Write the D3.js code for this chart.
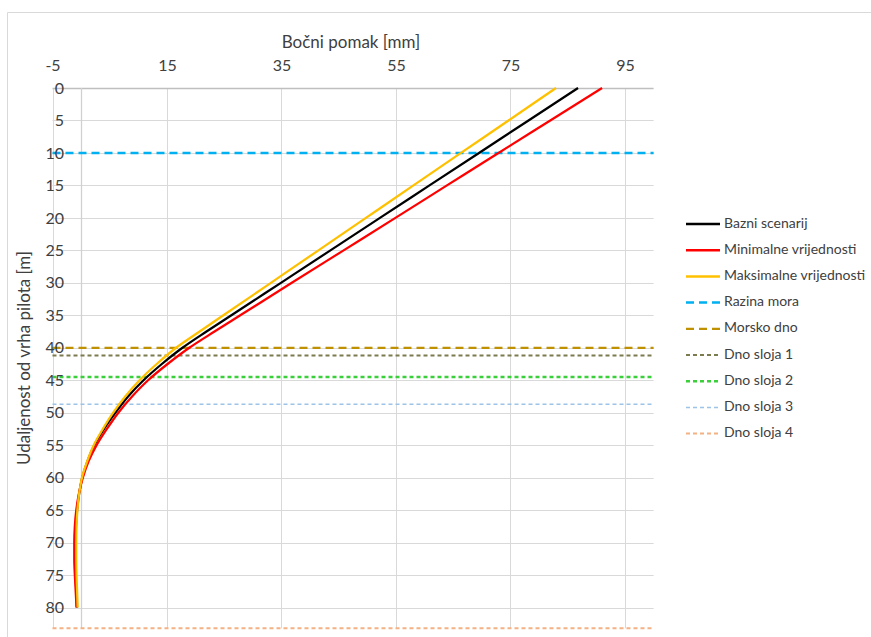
<!DOCTYPE html>
<html>
<head>
<meta charset="utf-8">
<script src="https://cdn.jsdelivr.net/npm/d3@7"></script>
<style>
  html, body { margin: 0; padding: 0; background: #fff; }
  svg { display: block; font-family: Lato, "Open Sans", sans-serif; }
</style>
</head>
<body>
<svg id="chart" width="871" height="637"></svg>
<script>
// Depth below pile head [m]
const depths = [0, 5, 10, 15, 20, 25, 30, 35, 37.5, 40, 42.5, 45, 47.5, 50, 52.5, 55, 57.5, 60, 62.5, 65, 67.5, 70, 72.5, 75, 77.5, 80];

// Lateral displacement [mm] for each scenario
const baseCase = [86.8, 78.15, 69.5, 60.85, 52.2, 43.55, 34.9, 26.25, 21.9, 17.7, 14.1, 10.9, 8.2, 6.0, 4.0, 2.3, 1.1, 0.2, -0.35, -0.7, -0.9, -1.0, -1.0, -0.95, -0.85, -0.75];
const minValues = [91.0, 81.95, 72.9, 63.9, 54.9, 45.85, 36.8, 27.8, 23.3, 18.9, 15.1, 11.7, 8.9, 6.5, 4.5, 2.7, 1.3, 0.3, -0.4, -0.85, -1.1, -1.2, -1.2, -1.1, -0.95, -0.8];
const maxValues = [82.95, 74.65, 66.35, 58.05, 49.75, 41.45, 33.15, 24.85, 20.7, 16.6, 13.2, 10.2, 7.7, 5.6, 3.8, 2.2, 1.05, 0.15, -0.35, -0.65, -0.8, -0.85, -0.85, -0.8, -0.7, -0.6];

const seriesNames = ["Bazni scenarij", "Minimalne vrijednosti", "Maksimalne vrijednosti"];
const seriesColors = ["#000000", "#ff0000", "#ffc000"];

// Horizontal reference levels [m]
const levelNames = ["Razina mora", "Morsko dno", "Dno sloja 1", "Dno sloja 2", "Dno sloja 3", "Dno sloja 4"];
const levelDepths = [10, 40, 41.2, 44.5, 48.7, 83.2];
const levelColors = ["#00b0f0", "#bf9000", "#7b7b4e", "#3ccf3c", "#9dc3e6", "#f4b183"];
const levelWidths = [2.5, 2.25, 2, 2.5, 1.5, 2];
const levelDashes = ["8,5", "8,5", "4,3", "4,3", "4,3", "4,3"];

// Axis ticks
const xTicks = [-5, 15, 35, 55, 75, 95];
const yTicks = d3.range(0, 81, 5);

const xTitle = "Bočni pomak [mm]";
const yTitle = "Udaljenost od vrha pilota [m]";

const svg = d3.select("#chart");

const x = d3.scaleLinear().domain([-5, 100]).range([52.5, 653.6]);
const y = d3.scaleLinear().domain([0, 83.2]).range([88, 628.3]);

// Chart-area frame
svg.append("path")
  .attr("d", "M7.5,637 V12.5 H871")
  .attr("fill", "none").attr("stroke", "#d9d9d9").attr("stroke-width", 1);

// Gridlines
const grid = svg.append("g").attr("stroke", "#d9d9d9").attr("stroke-width", 1);
grid.selectAll(".gx").data(xTicks).join("line")
  .attr("x1", d => Math.round(x(d)) + 0.5).attr("x2", d => Math.round(x(d)) + 0.5)
  .attr("y1", y(0)).attr("y2", y.range()[1]);
grid.selectAll(".gy").data(yTicks.filter(d => d > 0)).join("line")
  .attr("x1", x(-5)).attr("x2", x(100))
  .attr("y1", d => Math.round(y(d)) + 0.5).attr("y2", d => Math.round(y(d)) + 0.5);

// Axis lines: top (depth 0) and vertical at zero displacement
svg.append("line")
  .attr("x1", x(-5)).attr("x2", x(100))
  .attr("y1", Math.round(y(0)) + 0.5).attr("y2", Math.round(y(0)) + 0.5)
  .attr("stroke", "#bfbfbf").attr("stroke-width", 1.5);
svg.append("line")
  .attr("x1", Math.round(x(0)) + 0.5).attr("x2", Math.round(x(0)) + 0.5)
  .attr("y1", y(0)).attr("y2", y.range()[1])
  .attr("stroke", "#d0d0d0").attr("stroke-width", 1.25);

// Reference levels
const levels = levelNames.map((n, i) => ({ name: n, depth: levelDepths[i], color: levelColors[i], width: levelWidths[i], dash: levelDashes[i] }));
svg.append("g").selectAll("line").data(levels).join("line")
  .attr("x1", x(-5)).attr("x2", x(100))
  .attr("y1", d => y(d.depth)).attr("y2", d => y(d.depth))
  .attr("stroke", d => d.color).attr("stroke-width", d => d.width)
  .attr("stroke-dasharray", d => d.dash);

// Displacement curves
const series = [baseCase, minValues, maxValues].map((vals, i) => ({
  name: seriesNames[i], color: seriesColors[i],
  points: vals.map((v, j) => ({ v, d: depths[j] }))
}));
const line = d3.line().x(p => x(p.v)).y(p => y(p.d)).curve(d3.curveMonotoneY);
svg.append("g").selectAll("path").data(series).join("path")
  .attr("d", s => line(s.points))
  .attr("fill", "none").attr("stroke", s => s.color).attr("stroke-width", 2.25)
  .attr("stroke-linejoin", "round");

// Top axis labels
const xAxis = d3.axisTop(x).tickValues(xTicks).tickSize(0).tickPadding(0).tickFormat(d => String(d));
const gx = svg.append("g").attr("transform", "translate(0,71)").call(xAxis);
gx.select(".domain").remove();
gx.selectAll("text").attr("font-size", 16).attr("fill", "#404040").attr("font-family", "Lato, sans-serif").attr("dy", 0);

// Left axis labels
const yAxis = d3.axisLeft(y).tickValues(yTicks).tickSize(0).tickPadding(0).tickFormat(d => String(d));
const gy = svg.append("g").attr("transform", "translate(64,0)").call(yAxis);
gy.select(".domain").remove();
gy.selectAll("text").attr("font-size", 16).attr("fill", "#404040").attr("font-family", "Lato, sans-serif");

// Axis titles
svg.append("text").attr("x", 351).attr("y", 48).attr("text-anchor", "middle")
  .attr("font-size", 17).attr("fill", "#404040").text(xTitle);
svg.append("text").attr("transform", "translate(26,358) rotate(-90)")
  .attr("text-anchor", "middle").attr("dominant-baseline", "middle")
  .attr("font-size", 17).attr("fill", "#404040").text(yTitle);

// Legend
const legendItems = series.map(s => ({ name: s.name, color: s.color, width: 2.5, dash: null }))
  .concat(levels.map(l => ({ name: l.name, color: l.color, width: l.width, dash: l.dash })));
const lg = svg.append("g").selectAll("g").data(legendItems).join("g")
  .attr("transform", (d, i) => `translate(686,${224 + i * 26.2})`);
lg.append("line").attr("x1", 0).attr("x2", 34)
  .attr("stroke", d => d.color).attr("stroke-width", d => d.width)
  .attr("stroke-dasharray", d => d.dash);
lg.append("text").attr("x", 38).attr("dominant-baseline", "middle")
  .attr("font-size", 14).attr("fill", "#404040").text(d => d.name);
</script>
</body>
</html>
